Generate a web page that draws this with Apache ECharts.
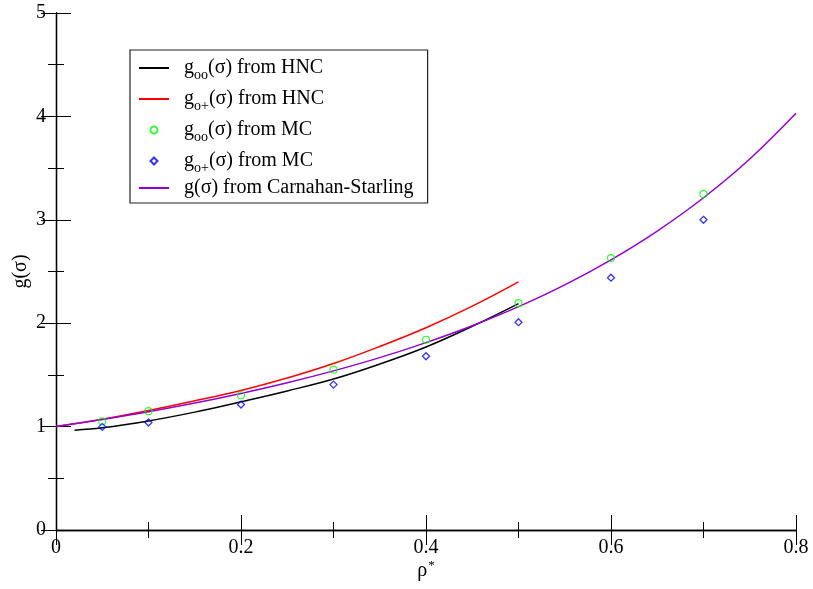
<!DOCTYPE html>
<html>
<head>
<meta charset="utf-8">
<script src="https://cdn.jsdelivr.net/npm/echarts@6/dist/echarts.min.js"></script>
<style>
html,body{margin:0;padding:0;background:#fff;}
#chart{width:813px;height:589px;}
</style>
</head>
<body>
<div id="chart"></div>
<script>
// ---- data ----
const rhoHNC = [0.02, 0.05, 0.1, 0.15, 0.2, 0.25, 0.3, 0.35, 0.4, 0.45, 0.5];
const gooHNC = [0.965, 0.988, 1.055, 1.14, 1.24, 1.345, 1.46, 1.605, 1.77, 1.97, 2.19];
const rhoHNC2 = [0.0, 0.05, 0.1, 0.15, 0.2, 0.25, 0.3, 0.35, 0.4, 0.45, 0.5];
const gopHNC = [1.0, 1.07, 1.155, 1.25, 1.35, 1.47, 1.61, 1.775, 1.956, 2.165, 2.40];
const rhoMC = [0.05, 0.1, 0.2, 0.3, 0.4, 0.5, 0.6, 0.7];
const gooMC = [1.05, 1.149, 1.303, 1.551, 1.84, 2.194, 2.63, 3.25];
const gopMC = [0.997, 1.04, 1.213, 1.406, 1.68, 2.01, 2.44, 3.0];
const rhoCS = [0.0, 0.05, 0.1, 0.15, 0.2, 0.25, 0.3, 0.35, 0.4, 0.45, 0.5, 0.55, 0.6, 0.65, 0.7, 0.75, 0.8];
const gCS = [1.0, 1.069, 1.144, 1.228, 1.321, 1.424, 1.539, 1.667, 1.812, 1.975, 2.160, 2.371, 2.613, 2.891, 3.213, 3.588, 4.03];
const xTicks = [0, 0.2, 0.4, 0.6, 0.8];
const yTicks = [0, 1, 2, 3, 4, 5];
const names = ['goo(σ) from HNC', 'go+(σ) from HNC', 'goo(σ) from MC', 'go+(σ) from MC', 'g(σ) from Carnahan-Starling'];

const zip = (xs, ys) => xs.map((x, i) => [x, ys[i]]);
const FONT = '"Liberation Serif", "DejaVu Serif", serif';
const DIAMOND = 'path://M5,0L10,5L5,10L0,5Z';

const chart = echarts.init(document.getElementById('chart'), null, {renderer: 'canvas'});

const axisCommon = {
  axisLine: {show: true, lineStyle: {color: '#000', width: 1.3}},
  axisTick: {show: true, inside: true, length: 15, lineStyle: {color: '#000', width: 1}},
  minorTick: {show: true, splitNumber: 2, length: 8, lineStyle: {color: '#000', width: 1}},
  splitLine: {show: false},
  minorSplitLine: {show: false}
};

function legendFmt(name) {
  const m = name.match(/^g(oo|o\+)(\(σ\).*)$/);
  if (m) return '{t|g}{s|' + m[1] + '}{t|' + m[2] + '}';
  return '{t|' + name + '}';
}

const lineLegendItem = n => ({name: n, itemStyle: {opacity: 0}});

const option = {
  backgroundColor: '#fff',
  animation: false,
  grid: {left: 56, right: 17, top: 13, bottom: 59, containLabel: false, outerBoundsMode: 'none'},
  xAxis: [
    Object.assign({
      type: 'value', min: 0, max: 0.8, interval: 0.2, position: 'bottom',
      name: '{r|ρ}{u|*}', nameLocation: 'middle', nameGap: 29, nameMoveOverlap: false,
      nameTextStyle: {
        rich: {
          r: {fontFamily: FONT, fontSize: 20, color: '#000', lineHeight: 24},
          u: {fontFamily: FONT, fontSize: 13, color: '#000', verticalAlign: 'top', lineHeight: 10, padding: [0, 0, 14, 1]}
        }
      },
      axisLabel: {
        show: true, margin: 8, color: '#000', fontFamily: FONT, fontSize: 20,
        formatter: v => (xTicks.indexOf(Math.round(v * 10) / 10) >= 0 ? String(Math.round(v * 10) / 10) : '')
      }
    }, axisCommon),
    Object.assign({
      type: 'value', min: 0, max: 0.8, interval: 0.2, position: 'top',
      axisLabel: {show: false}
    }, axisCommon)
  ],
  yAxis: [
    Object.assign({
      type: 'value', min: 0, max: 5, interval: 1, position: 'left',
      name: 'g(σ)', nameLocation: 'middle', nameGap: 25, nameMoveOverlap: false,
      nameTextStyle: {fontFamily: FONT, fontSize: 20, color: '#000'},
      axisLabel: {
        show: true, margin: 10, color: '#000', fontFamily: FONT, fontSize: 20,
        formatter: v => (yTicks.indexOf(v) >= 0 ? String(v) : '')
      }
    }, axisCommon),
    Object.assign({
      type: 'value', min: 0, max: 5, interval: 1, position: 'right',
      axisLabel: {show: false}
    }, axisCommon)
  ],
  legend: {
    show: true,
    orient: 'vertical',
    left: 130, top: 50,
    padding: [4, 14, 5, 8],
    itemWidth: 30, itemHeight: 7, itemGap: 3,
    backgroundColor: '#fff',
    borderColor: '#222', borderWidth: 1.2,
    symbolKeepAspect: true,
    data: [lineLegendItem(names[0]), lineLegendItem(names[1]), names[2], {name: names[3], icon: DIAMOND}, lineLegendItem(names[4])],
    formatter: legendFmt,
    textStyle: {
      padding: [0, 0, 0, 10],
      rich: {
        t: {fontFamily: FONT, fontSize: 20, color: '#000', lineHeight: 28, verticalAlign: 'middle'},
        s: {fontFamily: FONT, fontSize: 14, color: '#000', lineHeight: 14, padding: [14, 0, 0, 0], verticalAlign: 'top'}
      }
    }
  },
  series: [
    {
      name: names[0], type: 'line', data: zip(rhoHNC, gooHNC), smooth: 0.4, symbol: 'none',
      lineStyle: {color: '#000', width: 1.5}, itemStyle: {color: '#000'}, z: 3
    },
    {
      name: names[1], type: 'line', data: zip(rhoHNC2, gopHNC), smooth: 0.4, symbol: 'none',
      lineStyle: {color: '#ff0000', width: 1.5}, itemStyle: {color: '#ff0000'}, z: 3
    },
    {
      name: names[2], type: 'scatter', data: zip(rhoMC, gooMC), symbol: 'circle', symbolSize: 7,
      itemStyle: {color: 'rgba(255,255,255,0)', borderColor: '#00ff00', borderWidth: 1.2}, z: 5
    },
    {
      name: names[3], type: 'scatter', data: zip(rhoMC, gopMC), symbol: 'diamond', symbolSize: 7,
      itemStyle: {color: 'rgba(255,255,255,0)', borderColor: '#0000ff', borderWidth: 1.3}, z: 5
    },
    {
      name: names[4], type: 'line', data: zip(rhoCS, gCS), smooth: 0.4, symbol: 'none',
      lineStyle: {color: '#9400d3', width: 1.5}, itemStyle: {color: '#9400d3'}, z: 4
    }
  ]
};
chart.setOption(option);
</script>
</body>
</html>
